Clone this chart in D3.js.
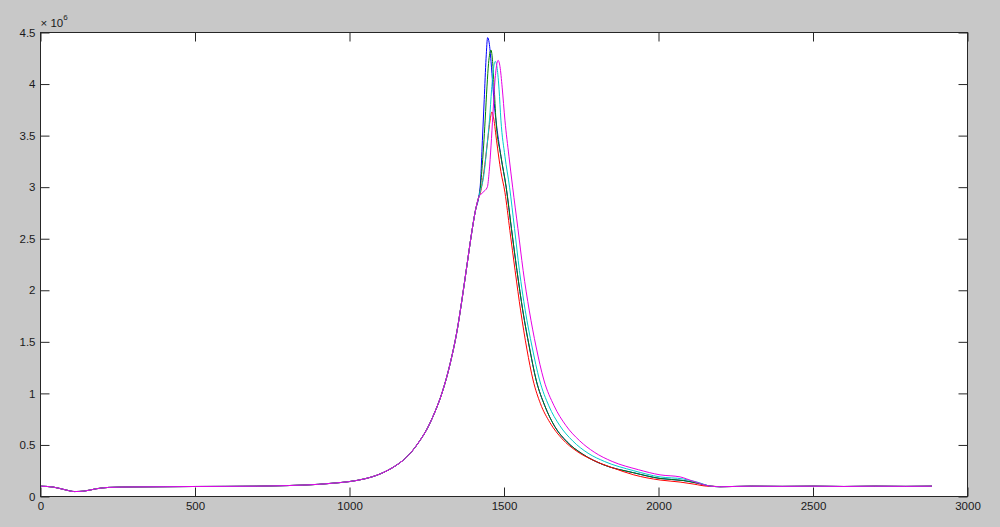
<!DOCTYPE html>
<html><head><meta charset="utf-8">
<script src="https://cdn.jsdelivr.net/npm/d3@7"></script>
<style>
html,body{margin:0;padding:0;background:#c8c8c8;}
svg{display:block;}
text{font-family:"Liberation Sans",Arial,sans-serif;fill:#1a1a1a;}
</style></head>
<body><svg id="chart" width="1000" height="527"></svg>
<script>
// ---- data (values in units of 10^6) ----
const xTicks = [0, 500, 1000, 1500, 2000, 2500, 3000];
const xTickLabels = ["0", "500", "1000", "1500", "2000", "2500", "3000"];
const yTicks = [0, 0.5, 1, 1.5, 2, 2.5, 3, 3.5, 4, 4.5];
const yTickLabels = ["0", "0.5", "1", "1.5", "2", "2.5", "3", "3.5", "4", "4.5"];
const exponentLabel = "6";

const leadIn = [[0,0.100],[40,0.092],[80,0.065],[110,0.048],[140,0.052],[180,0.075],[220,0.088],[300,0.093],[400,0.095],[500,0.097],[600,0.098],[700,0.100],[800,0.106],[900,0.118],[950,0.130],[1000,0.145],[1050,0.172],[1100,0.220],[1150,0.300],[1175,0.355],[1200,0.430],[1225,0.530],[1250,0.650],[1275,0.810],[1300,1.010],[1325,1.280],[1350,1.640],[1365,1.930],[1380,2.240],[1395,2.550],[1408,2.780],[1418,2.900]];
const tailOut = [[2170,0.100],[2200,0.095],[2300,0.100],[2400,0.098],[2500,0.100],[2600,0.097],[2700,0.100],[2800,0.098],[2885,0.100]];

const greenPeak = [[1422,2.95],[1428,3.15],[1434,3.40],[1439,3.65],[1445,3.98],[1450,4.20],[1458,4.33],[1463,4.22],[1468,3.98],[1474,3.65],[1490,3.30],[1507,3.00],[1524,2.60],[1542,2.19],[1561,1.80],[1582,1.45],[1604,1.13],[1632,0.88],[1664,0.68],[1704,0.53],[1755,0.41],[1820,0.31],[1920,0.23],[2005,0.175],[2080,0.155],[2125,0.13]];
const bluePeak = [[1424,3.05],[1430,3.45],[1436,3.85],[1442,4.25],[1447,4.45],[1452,4.40],[1458,4.22],[1464,3.98],[1470,3.76],[1474,3.65],[1490,3.30],[1507,3.00],[1524,2.60],[1542,2.19],[1561,1.80],[1582,1.45],[1604,1.13],[1632,0.88],[1664,0.68],[1704,0.53],[1755,0.41],[1820,0.31],[1920,0.23],[2005,0.175],[2080,0.155],[2125,0.13]];
const redPeak = [[1424,2.95],[1435,3.15],[1447,3.45],[1455,3.65],[1461,3.73],[1467,3.66],[1476,3.45],[1490,3.15],[1503,2.95],[1519,2.58],[1536,2.19],[1554,1.80],[1574,1.43],[1594,1.13],[1618,0.90],[1648,0.72],[1688,0.56],[1735,0.44],[1790,0.35],[1850,0.28],[1920,0.21],[2005,0.16],[2070,0.14],[2115,0.12],[2160,0.10]];
const cyanPeak = [[1424,2.97],[1434,3.10],[1445,3.40],[1453,3.65],[1460,3.95],[1466,4.15],[1472,4.22],[1478,4.15],[1484,3.95],[1490,3.65],[1503,3.30],[1518,3.00],[1534,2.60],[1550,2.19],[1569,1.80],[1591,1.45],[1615,1.13],[1645,0.88],[1680,0.69],[1722,0.54],[1772,0.42],[1825,0.34],[1920,0.25],[2005,0.19],[2080,0.17],[2125,0.14]];
const magentaPeak = [[1432,2.95],[1446,3.00],[1452,3.15],[1458,3.40],[1464,3.70],[1470,4.00],[1476,4.18],[1481,4.23],[1487,4.17],[1494,3.97],[1503,3.65],[1516,3.30],[1528,3.00],[1545,2.60],[1562,2.19],[1582,1.80],[1604,1.45],[1629,1.13],[1662,0.88],[1700,0.69],[1745,0.54],[1792,0.43],[1850,0.34],[1935,0.26],[2005,0.21],[2070,0.19],[2110,0.15]];

const seriesNames = ["blue", "green", "red", "cyan", "magenta"];
const seriesColors = ["#0000ff", "#008000", "#ff0000", "#00cccc", "#e600e6"];
const seriesPeaks = [bluePeak, greenPeak, redPeak, cyanPeak, magentaPeak];

// ---- layout ----
const svg = d3.select("#chart");
const L = 40.5, R = 967.5, T = 32.5, B = 496.5;
const x = d3.scaleLinear().domain([0, 3000]).range([L, R]);
const y = d3.scaleLinear().domain([0, 4.5]).range([B, T]);

svg.append("rect").attr("x", L).attr("y", T).attr("width", R - L).attr("height", B - T)
  .attr("fill", "#ffffff");

const line = d3.line().x(d => x(d[0])).y(d => y(d[1])).curve(d3.curveMonotoneX);
const gLines = svg.append("g");
seriesPeaks.forEach((pk, i) => {
  const pts = leadIn.concat(pk, tailOut);
  gLines.append("path").datum(pts).attr("d", line)
    .attr("fill", "none").attr("stroke", seriesColors[i]).attr("stroke-width", 1);
});

const tickLen = 9;
const axB = d3.axisBottom(x).tickValues(xTicks).tickSizeInner(-tickLen).tickSizeOuter(0)
  .tickPadding(5).tickFormat((d, i) => xTickLabels[i]);
const axT = d3.axisTop(x).tickValues(xTicks).tickSizeInner(-tickLen).tickSizeOuter(0).tickFormat("");
const axL = d3.axisLeft(y).tickValues(yTicks).tickSizeInner(-tickLen).tickSizeOuter(0)
  .tickPadding(5).tickFormat((d, i) => yTickLabels[i]);
const axR = d3.axisRight(y).tickValues(yTicks).tickSizeInner(-tickLen).tickSizeOuter(0).tickFormat("");

function style(g) {
  g.selectAll(".domain").remove();
  g.selectAll("line").attr("stroke", "#262626");
  g.selectAll("text").attr("font-size", "11.5px").attr("fill", "#1a1a1a")
    .attr("font-family", "'Liberation Sans', Arial, sans-serif");
}
svg.append("g").attr("transform", `translate(0,${B})`).call(axB).call(style);
svg.append("g").attr("transform", `translate(0,${T})`).call(axT).call(style);
svg.append("g").attr("transform", `translate(${L},0)`).call(axL).call(style);
svg.append("g").attr("transform", `translate(${R},0)`).call(axR).call(style);

svg.append("rect").attr("x", L).attr("y", T).attr("width", R - L).attr("height", B - T)
  .attr("fill", "none").attr("stroke", "#262626").attr("stroke-width", 1);

const ex = svg.append("text").attr("x", L).attr("y", 27).attr("font-size", "11.5px");
ex.append("tspan").text("× 10");
ex.append("tspan").attr("dy", -7).attr("font-size", "8px").text(exponentLabel);
</script></body></html>
